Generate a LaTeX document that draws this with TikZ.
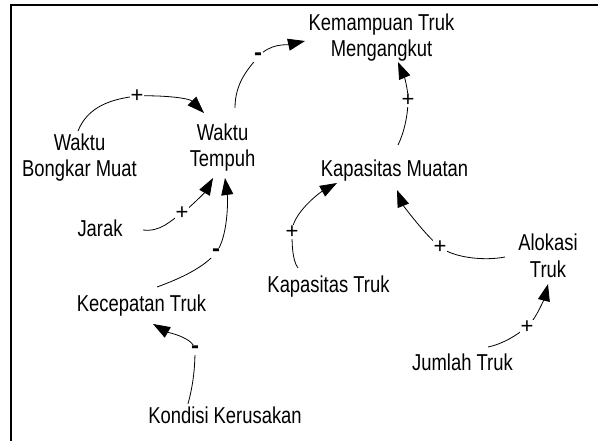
\documentclass[tikz,border=0pt]{standalone}
\usepackage{fontspec}
\setmainfont{Liberation Sans}
\usetikzlibrary{arrows.meta,calc}
\newcommand{\lbl}[1]{\scalebox{1}[1.25]{\begin{tabular}{@{}c@{}}#1\end{tabular}}}
\begin{document}
\begin{tikzpicture}[x=1pt,y=-1pt,
  var/.style={inner sep=0pt,font=\fontsize{18.4}{21}\selectfont},
  link/.style={line width=0.8pt,-{Triangle[length=17pt,width=12pt]}},
  sgn/.style={fill=white,inner sep=0.5pt,font=\fontsize{22}{24}\selectfont},
  sgm/.style={fill=white,inner sep=1.5pt,font=\bfseries\fontsize{24}{26}\selectfont}]
\useasboundingbox (0,0) rectangle (598,441);
\draw[line width=1.6pt] (11,441) -- (11,5) -- (598,5);
\node[var] (ktm)  at (381.5,38)    {\lbl{Kemampuan Truk\\Mengangkut}};
\node[var] (wt)   at (222.5,148)   {\lbl{Waktu\\Tempuh}};
\node[var] (wbm)  at (79.5,158.5)  {\lbl{Waktu\\Bongkar Muat}};
\node[var] (km)   at (394.5,171.75){\lbl{Kapasitas Muatan}};
\node[var] (jarak) at (100,231.5)  {\lbl{Jarak}};
\node[var] (kec)  at (141.5,306.5) {\lbl{Kecepatan Truk}};
\node[var] (kapt) at (328.5,287.5) {\lbl{Kapasitas Truk}};
\node[var] (alok) at (548,258.7)   {\lbl{Alokasi\\Truk}};
\node[var] (jum)  at (462.5,364.8) {\lbl{Jumlah Truk}};
\node[var] (kon)  at (225,417.8)   {\lbl{Kondisi Kerusakan}};
% Waktu Bongkar Muat -> Waktu Tempuh
\draw[link] ($(wbm)+(-1.5,-27.5)$) .. controls +(10,-25) and +(-25,3) .. (137,96) node[sgn]{+}
  .. controls +(25,-1) and +(-15,-15) .. ($(wt)+(-18.5,-35)$);
% Waktu Tempuh -> Kemampuan
\draw[link] ($(wt)+(12.5,-40)$) .. controls +(0,-25) and +(-10,12) .. (258,57) node[sgm]{-}
  .. controls +(12,-14) and +(-18,4) .. ($(ktm)+(-76.5,3)$);
% Jarak -> Waktu Tempuh
\draw[link] ($(jarak)+(43,-1.5)$) .. controls +(18,2) and +(-12,8) .. (182,213) node[sgn]{+}
  .. controls +(10,-7) and +(-8,14) .. ($(wt)+(-9.5,30)$);
% Kecepatan -> Waktu Tempuh
\draw[link] ($(kec)+(15.5,-19.5)$) .. controls +(25,-9) and +(-12,14) .. (216,253) node[sgm]{-}
  .. controls +(12,-16) and +(3,22) .. ($(wt)+(2.5,30)$);
% Kondisi -> Kecepatan
\draw[link] ($(kon)+(-37,-14)$) .. controls +(5,-18) and +(0,18) .. (195,350) node[sgm]{-}
  .. controls +(0,-12) and +(14,8) .. ($(kec)+(11.5,17.5)$);
% Kapasitas Truk -> Kapasitas Muatan
\draw[link] ($(kapt)+(-30.5,-19.5)$) .. controls +(-6,-8) and +(0,10) .. (292,232) node[sgn]{+}
  .. controls +(0,-18) and +(-18,10) .. ($(km)+(-57.5,11.25)$);
% Kapasitas Muatan -> Kemampuan
\draw[link] ($(km)+(3.5,-26.75)$) .. controls +(6,-12) and +(0,15) .. (408,100) node[sgn]{+}
  .. controls +(0,-12) and +(6,14) .. ($(ktm)+(16.5,24)$);
% Alokasi -> Kapasitas Muatan
\draw[link] ($(alok)+(-43,-1.7)$) .. controls +(-20,4) and +(14,11) .. (440,247) node[sgn]{+}
  .. controls +(-15,-12) and +(6,15) .. ($(km)+(2.5,18.25)$);
% Jumlah -> Alokasi
\draw[link] ($(jum)+(25.5,-17.8)$) .. controls +(15,-3) and +(-10,8) .. (527,327) node[sgn]{+}
  .. controls +(10,-9) and +(-3,12) .. ($(alok)+(0,25.3)$);
\end{tikzpicture}
\end{document}
